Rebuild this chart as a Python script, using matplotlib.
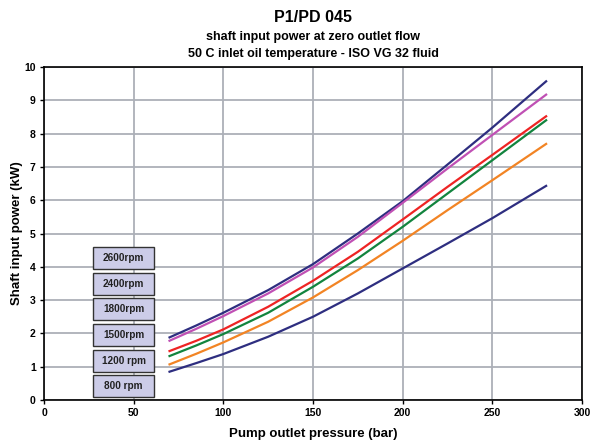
import matplotlib
matplotlib.use("Agg")
import matplotlib.pyplot as plt
from matplotlib.patches import Rectangle

plt.rcParams['font.family'] = ['Liberation Sans', 'DejaVu Sans']

pressure = [70, 85, 100, 125, 150, 175, 200, 225, 250, 280]
p2600 = [1.88, 2.24, 2.62, 3.30, 4.08, 5.00, 5.97, 7.07, 8.18, 9.57]
p2400 = [1.78, 2.14, 2.52, 3.20, 3.98, 4.90, 5.92, 6.95, 7.96, 9.17]
p1800 = [1.47, 1.78, 2.12, 2.80, 3.58, 4.45, 5.42, 6.40, 7.36, 8.52]
p1500 = [1.32, 1.64, 1.98, 2.62, 3.40, 4.25, 5.20, 6.20, 7.20, 8.40]
p1200 = [1.07, 1.39, 1.73, 2.35, 3.08, 3.90, 4.78, 5.70, 6.60, 7.69]
p800 = [0.85, 1.11, 1.38, 1.90, 2.50, 3.20, 3.95, 4.70, 5.46, 6.43]

series = [p2600, p2400, p1800, p1500, p1200, p800]
colors = ['#2E2E80', '#C050B4', '#EE2424', '#12843E', '#F28424', '#2E2E80']
labels = ['2600rpm', '2400rpm', '1800rpm', '1500rpm', '1200 rpm', '800 rpm']

xticks = [0, 50, 100, 150, 200, 250, 300]
yticks = list(range(0, 11))

fig = plt.figure(figsize=(5.94, 4.41), dpi=100)
ax = fig.add_axes([44/594, 41/441, 538/594, 333/441])

for vals, c in zip(series, colors):
    ax.plot(pressure, vals, color=c, lw=1.6, zorder=3, solid_joinstyle='round')

ax.set_xlim(0, 300)
ax.set_ylim(0, 10)
ax.set_xticks(xticks)
ax.set_yticks(yticks)
ax.grid(True, color='#ACB0B8', lw=1.3)
ax.set_axisbelow(True)
for s in ax.spines.values():
    s.set_color('black')
    s.set_linewidth(1.2)
ax.tick_params(axis='both', direction='out', length=3, width=1, labelsize=7.5, pad=3)
for t in ax.get_xticklabels() + ax.get_yticklabels():
    t.set_fontweight('bold')

# legend boxes
box_x0, box_x1 = 27.5, 61.3
tops = [4.58, 3.82, 3.05, 2.27, 1.51, 0.75]
for lab, top in zip(labels, tops):
    h = 0.66
    ax.add_patch(Rectangle((box_x0, top - h), box_x1 - box_x0, h, facecolor='#CCCCE8',
                           edgecolor='#333333', lw=1.0, zorder=4))
    ax.text((box_x0 + box_x1) / 2, top - h / 2, lab, ha='center', va='center',
            fontsize=7.2, fontweight='bold', color='#222222', zorder=5)

fig.text(0.527, 1 - 17/441, 'P1/PD 045', ha='center', va='center', fontsize=11.5, fontweight='bold')
fig.text(0.527, 1 - 37/441, 'shaft input power at zero outlet flow', ha='center', va='center', fontsize=9, fontweight='bold')
fig.text(0.527, 1 - 54/441, '50 C inlet oil temperature - ISO VG 32 fluid', ha='center', va='center', fontsize=9, fontweight='bold')
fig.text(0.527, 1 - 434/441, 'Pump outlet pressure (bar)', ha='center', va='center', fontsize=9.5, fontweight='bold')
fig.text(17/594, 1 - 233/441, 'Shaft input power (kW)', ha='center', va='center', rotation=90, fontsize=9.5, fontweight='bold')

fig.savefig('out.png', dpi=100)
